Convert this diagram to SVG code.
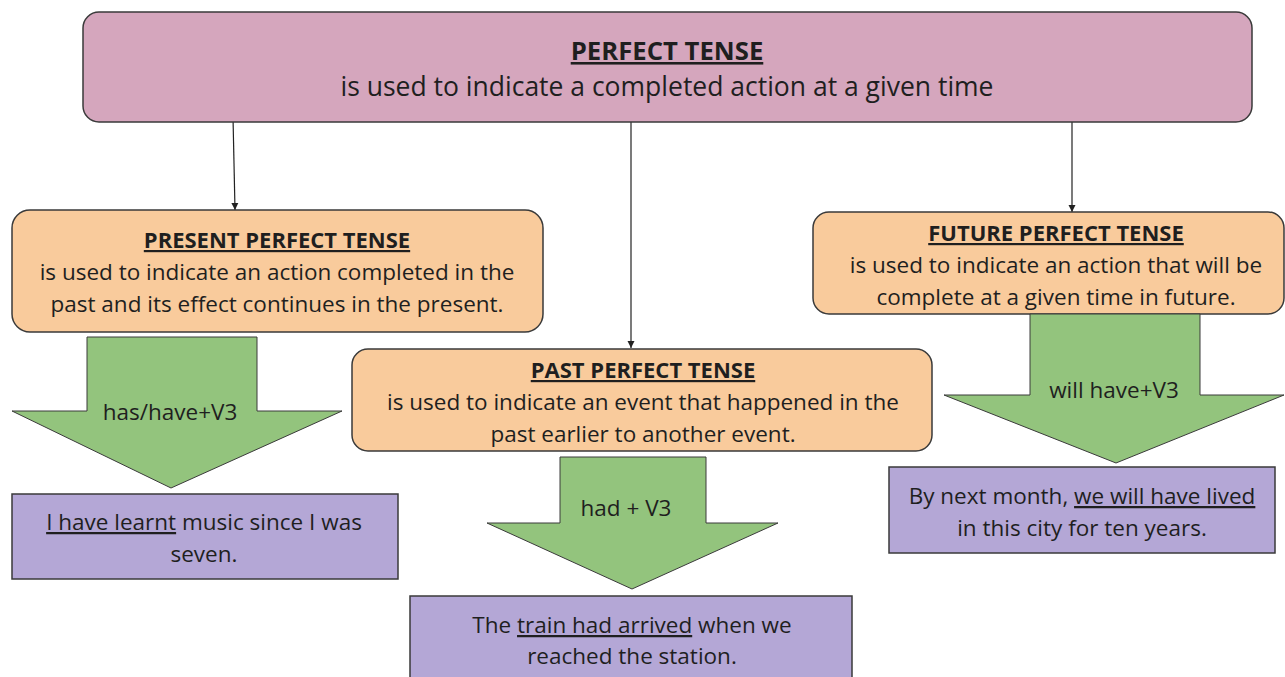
<svg xmlns="http://www.w3.org/2000/svg" width="1285" height="677" viewBox="0 0 1285 677">
<defs>
<marker id="ah" viewBox="0 0 10 10" refX="10" refY="5" markerWidth="7" markerHeight="8" markerUnits="userSpaceOnUse" orient="auto">
<path d="M0,0 L10,5 L0,10 z" fill="#222"/>
</marker>
<style>
text{font-family:"Open Sans","Noto Sans","DejaVu Sans",sans-serif;fill:#1f1f1f;text-anchor:middle}
.main{fill:#d5a6bd;stroke:#3a3a3a;stroke-width:1.5}
.org{fill:#f9cb9c;stroke:#3a3a3a;stroke-width:1.5}
.grn{fill:#93c47d;stroke:#3a3a3a;stroke-width:1}
.pur{fill:#b4a7d6;stroke:#3a3a3a;stroke-width:1.5}
.t{font-weight:bold;text-decoration:underline;font-size:22px}
.u{text-decoration:underline}
.b{font-size:22.5px}
.con{stroke:#222;stroke-width:1.2;fill:none;marker-end:url(#ah)}
</style>
</defs>
<g id="connectors">
<line class="con" x1="233" y1="117" x2="235" y2="210"/>
<line class="con" x1="631" y1="122" x2="631" y2="348"/>
<line class="con" x1="1072" y1="115" x2="1072" y2="212"/>
</g>
<g id="perfect-tense">
<rect class="main" x="83" y="12" width="1169" height="110" rx="16"/>
<text x="667" y="60" font-size="25.7" font-weight="bold" text-decoration="underline">PERFECT TENSE</text>
<text x="667" y="96" font-size="26.5">is used to indicate a completed action at a given time</text>
</g>
<g id="present-perfect">
<rect class="org" x="12" y="210" width="531" height="122" rx="18"/>
<text class="b" x="277" y="248"><tspan class="t">PRESENT PERFECT TENSE</tspan></text>
<text class="b" x="277" y="280">is used to indicate an action completed in the</text>
<text class="b" x="277" y="312">past and its effect continues in the present.</text>
</g>
<g id="future-perfect">
<rect class="org" x="813" y="212" width="471" height="102" rx="16"/>
<text class="b" x="1056" y="241"><tspan class="t">FUTURE PERFECT TENSE</tspan></text>
<text class="b" x="1056" y="273">is used to indicate an action that will be</text>
<text class="b" x="1056" y="305">complete at a given time in future.</text>
</g>
<g id="past-perfect">
<rect class="org" x="352" y="349" width="580" height="102" rx="16"/>
<text class="b" x="643" y="378"><tspan class="t">PAST PERFECT TENSE</tspan></text>
<text class="b" x="643" y="410">is used to indicate an event that happened in the</text>
<text class="b" x="643" y="442">past earlier to another event.</text>
</g>
<g id="arrow-present">
<path class="grn" d="M87,337 H257 V411 H342 L171,488 L12,411 H87 Z"/>
<text class="b" x="170" y="420">has/have+V3</text>
</g>
<g id="arrow-past">
<path class="grn" d="M560,457 H706 V523 H778 L632,589 L487,523 H560 Z"/>
<text class="b" x="626" y="516">had + V3</text>
</g>
<g id="arrow-future">
<path class="grn" d="M1030,314 H1200 V395 H1284 L1116,463 L944,395 H1030 Z"/>
<text class="b" x="1114" y="398">will have+V3</text>
</g>
<g id="example-present">
<rect class="pur" x="12" y="494" width="386" height="85"/>
<text class="b" x="204" y="530"><tspan class="u">I have learnt</tspan> music since I was</text>
<text class="b" x="204" y="562">seven.</text>
</g>
<g id="example-past">
<rect class="pur" x="410" y="596" width="442" height="90"/>
<text class="b" x="632" y="633">The <tspan class="u">train had arrived</tspan> when we</text>
<text class="b" x="632" y="664">reached the station.</text>
</g>
<g id="example-future">
<rect class="pur" x="889" y="467" width="386" height="86"/>
<text class="b" x="1082" y="504">By next month, <tspan class="u">we will have lived</tspan></text>
<text class="b" x="1082" y="536">in this city for ten years.</text>
</g>
</svg>
